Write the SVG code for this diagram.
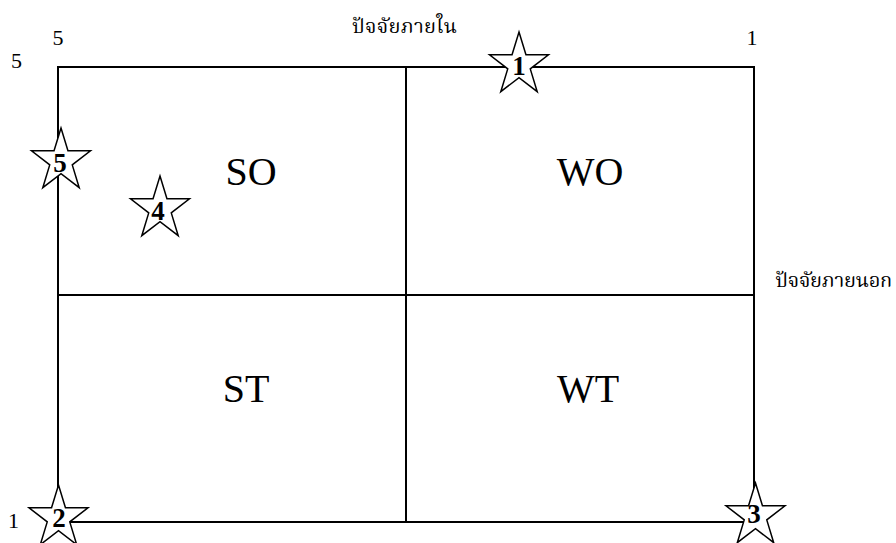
<svg xmlns="http://www.w3.org/2000/svg" width="896" height="543" viewBox="0 0 896 543">
<style>
.ln{stroke:#000;stroke-width:2;fill:none}
.star{fill:#fff;stroke:#000;stroke-width:1.5;stroke-linejoin:miter}
.num{font-family:"Liberation Serif","Times New Roman",serif;font-size:27px;font-weight:bold;text-anchor:middle;fill:#000}
.quad{font-family:"Liberation Serif","Times New Roman",serif;font-size:40px;text-anchor:middle;fill:#000}
.sm{font-family:"Liberation Serif","Times New Roman",serif;font-size:22px;text-anchor:middle;fill:#000}
.th{font-family:"Liberation Serif","Noto Serif Thai","Noto Sans Thai",serif;font-size:20px;fill:#000}
</style>
<defs>
<path id="st" d="M0,-33 L6.96,-10.2 L29.48,-10.2 L11.26,3.89 L18.22,26.7 L0,12.6 L-18.22,26.7 L-11.26,3.89 L-29.48,-10.2 L-6.96,-10.2 Z"/>
</defs>
<g id="connectors">
<rect class="ln" x="58" y="67" width="696" height="455"/>
<line class="ln" x1="406" y1="67" x2="406" y2="522"/>
<line class="ln" x1="58" y1="295" x2="754" y2="295"/>
</g>
<g id="quadrant-SO"><text class="quad" x="251" y="185">SO</text></g>
<g id="quadrant-WO"><text class="quad" x="590" y="185">WO</text></g>
<g id="quadrant-ST"><text class="quad" x="246" y="402">ST</text></g>
<g id="quadrant-WT"><text class="quad" x="588" y="402">WT</text></g>
<g id="axis-labels">
<text class="sm" x="58" y="45">5</text>
<text class="sm" x="16.5" y="68">5</text>
<text class="sm" x="752" y="45">1</text>
<text class="sm" x="13.5" y="528">1</text>
<text class="th" x="352" y="33" textLength="105">ปัจจัยภายใน</text>
<text class="th" x="775" y="287" textLength="117">ปัจจัยภายนอก</text>
</g>
<g id="star-1"><use href="#st" class="star" x="519" y="65"/><text class="num" x="519" y="75">1</text></g>
<g id="star-5"><use href="#st" class="star" x="61" y="161"/><text class="num" x="60" y="172">5</text></g>
<g id="star-4"><use href="#st" class="star" x="160" y="209"/><text class="num" x="158" y="220">4</text></g>
<g id="star-2"><use href="#st" class="star" x="58.5" y="518"/><text class="num" x="59" y="527">2</text></g>
<g id="star-3"><use href="#st" class="star" x="755.5" y="516"/><text class="num" x="754" y="523">3</text></g>
</svg>
